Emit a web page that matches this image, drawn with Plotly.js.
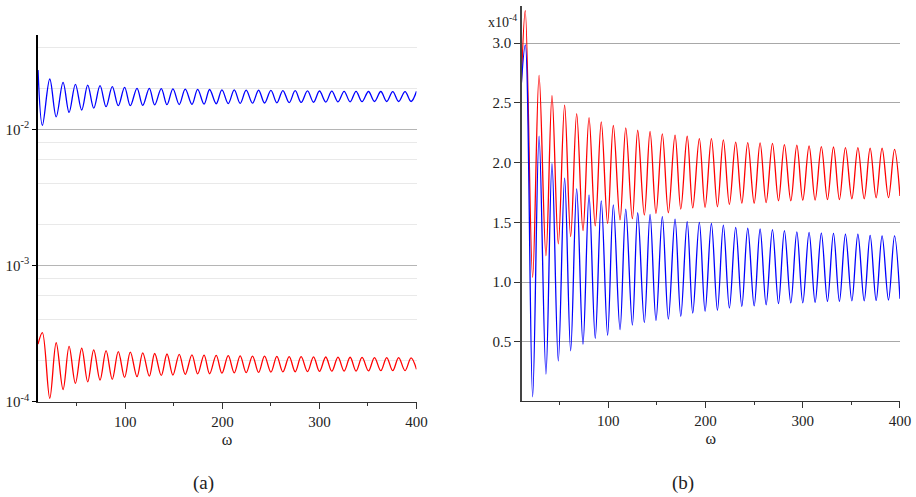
<!DOCTYPE html>
<html>
<head>
<meta charset="utf-8">
<script src="https://cdn.plot.ly/plotly-3.0.1.min.js"></script>
<style>html,body{margin:0;padding:0;background:#fff;}#chart{width:916px;height:497px;}</style>
</head>
<body>
<div id="chart"></div>
<script>
const omega = [10, 14.5, 22.1, 28.7, 35.8, 42.0, 48.5, 55.0, 61.2, 67.4, 73.9, 80.1, 86.5, 92.7, 99.2, 105.1, 112.0, 117.9, 124.7, 130.2, 137.0, 142.9, 149.0, 155.5, 161.7, 168.6, 174.5, 181.1, 186.8, 193.6, 199.5, 206.0, 212.2, 218.3, 224.5, 231.0, 237.3, 243.4, 250.0, 256.1, 262.3, 268.8, 275.0, 281.1, 287.7, 293.9, 300.0, 306.5, 312.7, 319.1, 325.4, 331.6, 337.7, 343.9, 350.5, 356.7, 363.2, 369.3, 375.5, 381.6, 388.2, 394.4, 400];

// panel (a), log scale: blue in units of 1e-2, red in units of 1e-4
const leftBlue = [2.72, 1.07, 2.34, 1.235, 2.21, 1.33, 2.14, 1.386, 2.11, 1.43, 2.09, 1.465, 2.055, 1.49, 2.03, 1.49, 2.0, 1.50, 2.0, 1.51, 1.99, 1.515, 1.98, 1.52, 1.97, 1.525, 1.965, 1.53, 1.96, 1.54, 1.95, 1.545, 1.945, 1.55, 1.94, 1.555, 1.935, 1.56, 1.93, 1.565, 1.925, 1.57, 1.92, 1.575, 1.915, 1.58, 1.91, 1.585, 1.905, 1.59, 1.9, 1.59, 1.9, 1.595, 1.895, 1.6, 1.895, 1.6, 1.89, 1.6, 1.89, 1.6, 1.9];
const leftRed = [2.65, 3.22, 1.06, 2.71, 1.23, 2.55, 1.365, 2.47, 1.40, 2.40, 1.443, 2.37, 1.46, 2.33, 1.51, 2.31, 1.526, 2.28, 1.54, 2.26, 1.56, 2.24, 1.57, 2.23, 1.59, 2.21, 1.60, 2.2, 1.605, 2.19, 1.62, 2.18, 1.63, 2.17, 1.635, 2.165, 1.64, 2.16, 1.65, 2.15, 1.655, 2.145, 1.66, 2.14, 1.665, 2.135, 1.67, 2.13, 1.675, 2.125, 1.68, 2.12, 1.68, 2.115, 1.685, 2.11, 1.69, 2.11, 1.69, 2.105, 1.69, 2.1, 1.73];

// panel (b), linear scale, units of 1e-4
const rightRed = [2.55, 3.27, 1.04, 2.73, 1.22, 2.56, 1.32, 2.48, 1.38, 2.41, 1.43, 2.375, 1.47, 2.34, 1.49, 2.31, 1.52, 2.29, 1.53, 2.27, 1.56, 2.26, 1.575, 2.24, 1.58, 2.23, 1.61, 2.22, 1.62, 2.20, 1.625, 2.20, 1.63, 2.19, 1.65, 2.17, 1.66, 2.167, 1.66, 2.165, 1.665, 2.16, 1.68, 2.15, 1.68, 2.145, 1.685, 2.14, 1.686, 2.133, 1.69, 2.13, 1.69, 2.125, 1.697, 2.125, 1.697, 2.12, 1.705, 2.12, 1.706, 2.11, 1.72];
const rightBlue = [2.6, 2.985, 0.04, 2.22, 0.23, 1.99, 0.34, 1.87, 0.425, 1.78, 0.48, 1.73, 0.53, 1.68, 0.556, 1.645, 0.6, 1.61, 0.64, 1.58, 0.66, 1.567, 0.677, 1.547, 0.69, 1.526, 0.713, 1.505, 0.74, 1.5, 0.755, 1.49, 0.763, 1.477, 0.783, 1.458, 0.797, 1.45, 0.8, 1.444, 0.81, 1.438, 0.82, 1.43, 0.825, 1.42, 0.825, 1.416, 0.83, 1.41, 0.838, 1.408, 0.838, 1.4, 0.843, 1.4, 0.843, 1.39, 0.846, 1.386, 0.85, 1.386, 0.86];

const leftYTicks = [1e-4, 1e-3, 1e-2];
const leftYTickText = ['10<sup>-4</sup>', '10<sup>-3</sup>', '10<sup>-2</sup>'];
const leftYMinor = [2e-4, 4e-4, 6e-4, 8e-4, 2e-3, 4e-3, 6e-3, 8e-3, 2e-2, 4e-2];
const rightYTicks = [0.5, 1.0, 1.5, 2.0, 2.5, 3.0];
const xTicks = [100, 200, 300, 400];
const xMinor = [50, 150, 250, 350];

const SERIF = "'Liberation Serif'";
const lineStyle = c => ({color: c, width: 1.3, shape: 'spline', smoothing: 1.0});

const traces = [
  {x: omega, y: leftBlue.map(v => v * 1e-2), xaxis: 'x', yaxis: 'y', mode: 'lines', line: lineStyle('#0000ff'), hoverinfo: 'skip'},
  {x: omega, y: leftRed.map(v => v * 1e-4), xaxis: 'x', yaxis: 'y', mode: 'lines', line: lineStyle('#ff0000'), hoverinfo: 'skip'},
  {x: omega, y: rightRed, xaxis: 'x2', yaxis: 'y2', mode: 'lines', line: lineStyle('#ff0000'), hoverinfo: 'skip'},
  {x: omega, y: rightBlue, xaxis: 'x2', yaxis: 'y2', mode: 'lines', line: lineStyle('#0000ff'), hoverinfo: 'skip'}
];

const xAxisBase = {
  tickmode: 'array', tickvals: xTicks, ticks: 'outside', ticklen: 6, tickcolor: '#333', tickwidth: 1,
  minor: {tickmode: 'array', tickvals: xMinor, ticks: 'outside', ticklen: 3, tickcolor: '#333', showgrid: false},
  showline: true, linecolor: '#333', linewidth: 1.5, showgrid: false, zeroline: false,
  tickfont: {family: SERIF, size: 15, color: '#222'},
  title: {text: 'ω', standoff: 4, font: {family: SERIF, size: 16, color: '#222'}}
};

const layout = {
  width: 916, height: 497,
  margin: {l: 0, r: 0, t: 0, b: 0},
  paper_bgcolor: '#fff', plot_bgcolor: '#fff',
  showlegend: false,
  font: {family: SERIF, size: 15, color: '#222'},
  xaxis: Object.assign({}, xAxisBase, {domain: [0.0412, 0.4547], range: [9.7, 400], anchor: 'y'}),
  yaxis: {
    domain: [0.1917, 0.9296], type: 'log', range: [-4, -1.3077], anchor: 'x',
    tickmode: 'array', tickvals: leftYTicks, ticktext: leftYTickText,
    ticks: 'outside', ticklen: 4, tickcolor: '#000', tickwidth: 1.5,
    showline: true, linecolor: '#000', linewidth: 1.5,
    showgrid: true, gridcolor: '#b5b5b5', gridwidth: 1.5, zeroline: false,
    minor: {tickmode: 'array', tickvals: leftYMinor, ticks: '', showgrid: true, gridcolor: '#e9e9e9', gridwidth: 1},
    tickfont: {family: SERIF, size: 15, color: '#222'}
  },
  xaxis2: Object.assign({}, xAxisBase, {domain: [0.5695, 0.9825], range: [10.8, 400], anchor: 'y2'}),
  yaxis2: {
    domain: [0.1932, 0.988], range: [0.005, 3.31], anchor: 'x2',
    tickmode: 'array', tickvals: rightYTicks, tickformat: '.1f',
    ticks: 'outside', ticklen: 6, tickcolor: '#333', tickwidth: 1,
    showline: true, linecolor: '#444', linewidth: 1.5,
    showgrid: true, gridcolor: '#a8a8a8', gridwidth: 1, zeroline: false,
    tickfont: {family: SERIF, size: 15, color: '#222'}
  },
  annotations: [
    {text: 'x10<sup>-4</sup>', xref: 'paper', yref: 'paper', x: 0.531, y: 0.958, xanchor: 'left', yanchor: 'middle', showarrow: false, font: {family: SERIF, size: 14, color: '#222'}},
    {text: '(a)', xref: 'paper', yref: 'paper', x: 0.2227, y: 0.028, xanchor: 'center', yanchor: 'middle', showarrow: false, font: {family: SERIF, size: 19, color: '#222'}},
    {text: '(b)', xref: 'paper', yref: 'paper', x: 0.7456, y: 0.028, xanchor: 'center', yanchor: 'middle', showarrow: false, font: {family: SERIF, size: 19, color: '#222'}}
  ]
};

Plotly.newPlot('chart', traces, layout, {staticPlot: true, displayModeBar: false});
</script>
</body>
</html>
